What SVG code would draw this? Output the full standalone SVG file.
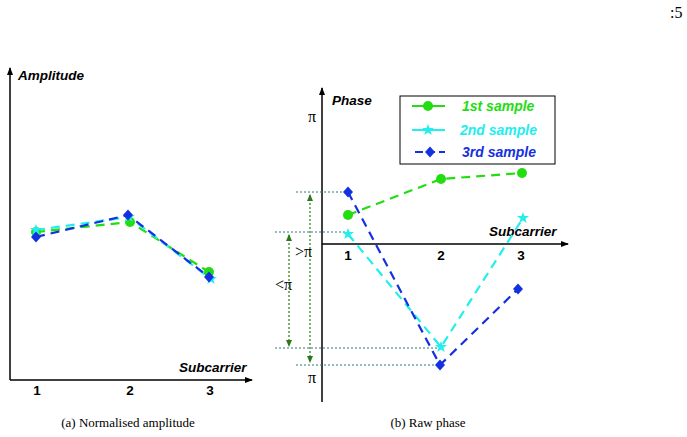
<svg xmlns="http://www.w3.org/2000/svg" width="687" height="437" viewBox="0 0 687 437">
<style>
.ax{stroke:#000;stroke-width:1.5;fill:none}
.lb{font-family:"Liberation Sans",Arial,sans-serif;font-weight:bold;font-style:italic;font-size:13.5px}
.tk{font-family:"Liberation Sans",Arial,sans-serif;font-weight:bold;font-size:13.5px;text-anchor:middle}
.sr{font-family:"Liberation Serif","Times New Roman",serif;font-size:16px}
.cap{font-family:"Liberation Serif","Times New Roman",serif;font-size:13px;text-anchor:middle}
.g{stroke:#22dd11;stroke-width:2.2;fill:none;stroke-dasharray:9,6}
.c{stroke:#22eeee;stroke-width:2.2;fill:none;stroke-dasharray:9,6}
.b{stroke:#1530e0;stroke-width:2.2;fill:none;stroke-dasharray:9,6}
.dt{stroke:#2a7a7a;stroke-width:1.2;stroke-dasharray:2,2;fill:none}
.ga{stroke:#2a7a1a;stroke-width:1.2;stroke-dasharray:2,2;fill:none}
.lg{font-size:14px}
</style>
<defs>
<marker id="ar" markerWidth="8" markerHeight="8" refX="7" refY="4" orient="auto" markerUnits="userSpaceOnUse"><path d="M0,1 L8,4 L0,7 z" fill="#000"/></marker>
<marker id="ga" markerWidth="7" markerHeight="7" refX="6" refY="3.5" orient="auto-start-reverse" markerUnits="userSpaceOnUse"><path d="M0,0.5 L7,3.5 L0,6.5 z" fill="#2a7a1a"/></marker>
<g id="dot"><circle r="5" fill="#22dd11"/></g>
<g id="star"><polygon points="0,-6 1.5,-2 6,-2 2.4,0.8 3.7,5 0,2.5 -3.7,5 -2.4,0.8 -6,-2 -1.5,-2" fill="#22eeee"/></g>
<g id="dia"><polygon points="0,-5.5 5,0 0,5.5 -5,0" fill="#1530e0"/></g>
</defs>
<text x="670" y="18" class="sr" font-size="13">:5</text>
<g id="amplitude">
<path class="ax" d="M10,380 V68" marker-end="url(#ar)"/>
<path class="ax" d="M10,380 H252" marker-end="url(#ar)"/>
<text x="18" y="80" class="lb">Amplitude</text>
<text x="179" y="372" class="lb">Subcarrier</text>
<text x="37" y="395" class="tk">1</text><text x="130" y="395" class="tk">2</text><text x="210" y="395" class="tk">3</text>
<polyline class="g" points="36,232 130,222 209,272"/>
<polyline class="c" points="36,230 129,217 211,279"/>
<polyline class="b" points="36,237 128,215 209,277"/>
<use href="#dot" x="36" y="232"/><use href="#dot" x="130" y="222"/><use href="#dot" x="209" y="272"/>
<use href="#star" x="36" y="230"/><use href="#star" x="129" y="217"/><use href="#star" x="211" y="279"/>
<use href="#dia" x="36" y="237"/><use href="#dia" x="128" y="215"/><use href="#dia" x="209" y="277"/>
</g>
<g id="phase">
<path class="ax" d="M322,402 V88" marker-end="url(#ar)"/>
<path class="ax" d="M322,244 H568" marker-end="url(#ar)"/>
<text x="332" y="105" class="lb">Phase</text>
<text x="489" y="236" class="lb">Subcarrier</text>
<text x="308" y="122" class="sr">π</text>
<text x="308" y="383" class="sr">π</text>
<text x="295" y="257" class="sr">&gt;π</text>
<text x="275" y="290" class="sr">&lt;π</text>
<text x="348" y="260" class="tk">1</text><text x="441" y="260" class="tk">2</text><text x="521" y="260" class="tk">3</text>
</g>
<g id="connectors">
<path class="dt" d="M296,192 H348 M275,232 H348 M275,348 H441 M296,365 H440"/>
<path class="ga" d="M310,195 V362" marker-start="url(#ga)" marker-end="url(#ga)"/>
<path class="ga" d="M289,235 V346" marker-start="url(#ga)" marker-end="url(#ga)"/>
<polyline class="g" points="348,215 441,179 522,173"/>
<polyline class="c" points="348,234 441,347 523,218"/>
<polyline class="b" points="348,192 440,365 518,289"/>
</g>
<g id="markers">
<use href="#dot" x="348" y="215"/><use href="#dot" x="441" y="179"/><use href="#dot" x="522" y="173"/>
<use href="#star" x="348" y="234"/><use href="#star" x="441" y="347"/><use href="#star" x="523" y="218"/>
<use href="#dia" x="348" y="192"/><use href="#dia" x="440" y="365"/><use href="#dia" x="518" y="289"/>
</g>
<g id="legend">
<rect x="400" y="96" width="155" height="68" fill="#fff" stroke="#000" stroke-width="1"/>
<path class="g" d="M412,106 H445" style="stroke-dasharray:none"/><use href="#dot" x="428" y="106"/>
<path class="c" d="M412,130 H445" style="stroke-dasharray:none"/><use href="#star" x="428" y="130"/>
<path class="b" d="M415,152 H445" style="stroke-dasharray:8,4"/><use href="#dia" x="430" y="152"/>
<text x="462" y="111" class="lb lg" fill="#22dd11">1st sample</text>
<text x="460" y="135" class="lb lg" fill="#22eeee">2nd sample</text>
<text x="462" y="157" class="lb lg" fill="#1530e0">3rd sample</text>
</g>
<text x="128" y="427" class="cap">(a)  Normalised amplitude</text>
<text x="428" y="427" class="cap">(b)  Raw phase</text>
</svg>
